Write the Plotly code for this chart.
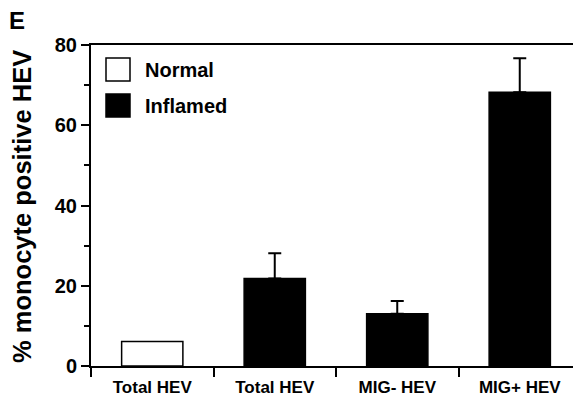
import plotly.graph_objects as go

categories = ["Total HEV", "Total HEV", "MIG- HEV", "MIG+ HEV"]
groups = ["Normal", "Inflamed", "Inflamed", "Inflamed"]
values = [6.1, 21.8, 13.0, 68.2]
errors = [0.0, 6.3, 3.2, 8.5]
y_ticks = [0, 20, 40, 60, 80]
legend_names = ["Normal", "Inflamed"]
legend_colors = ["white", "black"]

# page body has an 8px margin; compensate so the figure fills the window
OFF = 8
WIN_W, WIN_H = 581, 396
W, H = WIN_W - OFF, WIN_H - OFF
L, T, R, B = 91 - OFF, 45 - OFF, 0, 30
PW, PH = W - L - R, H - T - B

def px_x(px):
    return (px - OFF - L) / PW

def px_y(py):
    return (WIN_H - B - py) / PH

FONT = "Liberation Sans, Arial, sans-serif"
fig = go.Figure()

for name, color in zip(legend_names, legend_colors):
    idx = [i for i, g in enumerate(groups) if g == name]
    errs = [errors[i] for i in idx]
    fig.add_trace(go.Bar(
        x=idx,
        y=[values[i] for i in idx],
        width=0.5,
        name=name,
        marker=dict(color=color, line=dict(color="black", width=1.5)),
        error_y=dict(type="data", array=errs,
                     arrayminus=[0] * len(idx), symmetric=False,
                     visible=any(e > 0 for e in errs),
                     color="black", thickness=2, width=6.5),
        showlegend=False,
    ))

fig.update_layout(
    width=W, height=H,
    margin=dict(l=L, r=R, t=T, b=B, pad=0),
    paper_bgcolor="white", plot_bgcolor="white",
    font=dict(family=FONT, color="black", weight="bold"),
    barmode="overlay",
    xaxis=dict(
        range=[-0.5, 3.5], automargin=False,
        tickmode="array",
        tickvals=list(range(len(categories))),
        ticktext=categories,
        ticks="outside", ticklen=0, tickcolor="rgba(0,0,0,0)",
        ticklabelstandoff=5,
        tickfont=dict(size=17, family=FONT, weight="bold"),
        showline=True, linecolor="black", linewidth=2, mirror=True,
        showgrid=False, zeroline=False,
        minor=dict(tick0=-0.5, dtick=1, ticks="outside", ticklen=9,
                   tickwidth=2, tickcolor="black", showgrid=False),
    ),
    yaxis=dict(
        range=[0, 80], automargin=False,
        tickmode="array", tickvals=y_ticks,
        ticks="outside", ticklen=8, tickwidth=2, tickcolor="black",
        tickfont=dict(size=20, family=FONT, weight="bold"),
        showline=True, linecolor="black", linewidth=2,
        showgrid=False, zeroline=False,
        minor=dict(tick0=0, dtick=10, ticks="outside", ticklen=5,
                   tickwidth=1.5, tickcolor="black", showgrid=False),
    ),
)

annotations = [
    dict(text="% monocyte positive HEV", xref="paper", yref="paper",
         x=px_x(22), y=px_y(207), textangle=-90, showarrow=False,
         xanchor="center", yanchor="middle",
         font=dict(size=25.5, family=FONT, weight="bold")),
    dict(text="E", xref="paper", yref="paper",
         x=px_x(17), y=px_y(21), showarrow=False,
         xanchor="center", yanchor="middle",
         font=dict(size=24, family=FONT, weight="bold")),
]

shapes = []
box_tops = [58, 94]
for name, color, top in zip(legend_names, legend_colors, box_tops):
    shapes.append(dict(type="rect", xref="paper", yref="paper",
                       x0=px_x(106), x1=px_x(130), y0=px_y(top + 23), y1=px_y(top),
                       fillcolor=color, line=dict(color="black", width=1.5)))
    annotations.append(dict(text=name, xref="paper", yref="paper",
                            x=px_x(143), y=px_y(top + 12), showarrow=False,
                            xanchor="left", yanchor="middle",
                            font=dict(size=20, family=FONT, weight="bold")))

fig.update_layout(annotations=annotations, shapes=shapes)
fig.write_html("out.html")
